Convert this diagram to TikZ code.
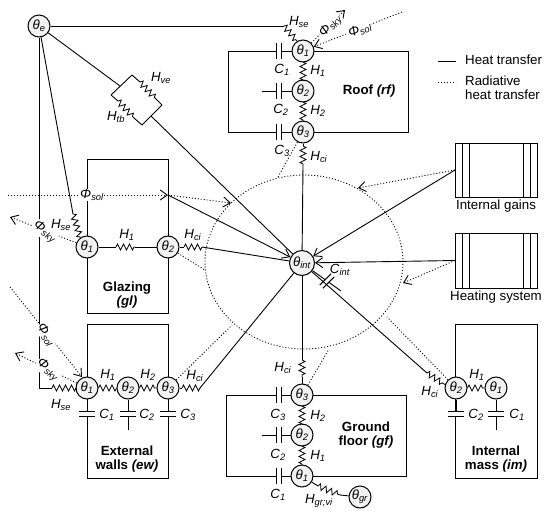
\documentclass[tikz,border=0pt]{standalone}
\usepackage{fontspec}
\setmainfont{Liberation Sans}
\usetikzlibrary{arrows.meta, positioning, calc, shapes.geometric, decorations.pathmorphing}
\newcommand{\sym}[2]{\textit{#1}\textsubscript{\textit{#2}}}
\begin{document}
\begin{tikzpicture}[x=1pt, y=-1pt, >={Straight Barb[length=7pt,width=10pt]},
            font=\fontsize{13.3}{14.5}\selectfont,
            wire/.style={line width=0.9pt},
            rad/.style={line width=0.9pt, dash pattern=on 1pt off 2pt},
            res/.style={line width=0.8pt, decorate, decoration={zigzag, segment length=6pt, amplitude=3pt}},
            box/.style={draw, line width=1pt, rectangle, inner sep=0pt, outer sep=0pt},
            temp/.style={draw, circle, line width=1pt, fill=gray!10, minimum size=22pt, inner sep=0pt},
            plate/.style={line width=1.1pt},
            capv/.style={fill=white, minimum width=16pt, minimum height=4.5pt, inner sep=0pt, outer sep=0pt,
                append after command={(\tikzlastnode.north west) edge[plate] (\tikzlastnode.north east)
                                      (\tikzlastnode.south west) edge[plate] (\tikzlastnode.south east)}},
            caph/.style={capv, rotate=90},
            lab/.style={inner sep=0pt},
            hide/.style={fill=white, inner sep=0.5pt}]
            \useasboundingbox (0,0) rectangle (550,515);

            \node[draw, ellipse, rad, minimum width=198pt, minimum height=174pt, inner sep=0pt] (zone) at (304,262) {};

            \node[box, minimum width=180pt, minimum height=81pt] (rf) at (318,91.5) {};
            \node[box, minimum width=81pt, minimum height=154pt] (gl) at (127.5,236) {};
            \node[box, minimum width=81pt, minimum height=154pt] (ew) at (127.5,401) {};
            \node[box, minimum width=180pt, minimum height=81pt] (gf) at (316,435.5) {};
            \node[box, minimum width=82pt, minimum height=154pt] (im) at (496,401) {};
            \node[box, minimum width=82pt, minimum height=54pt] (ig) at (496,170) {};
            \node[box, minimum width=82pt, minimum height=55pt] (hs) at (496,260.5) {};

            \draw[box] ($(ig.north west)+(7,0)$) -- ($(ig.south west)+(7,0)$);
            \draw[box] ($(ig.north west)+(14,0)$) -- ($(ig.south west)+(14,0)$);
            \draw[box] ($(ig.north east)+(-7,0)$) -- ($(ig.south east)+(-7,0)$);
            \draw[box] ($(ig.north east)+(-14,0)$) -- ($(ig.south east)+(-14,0)$);
            \draw[box] ($(hs.north west)+(7,0)$) -- ($(hs.south west)+(7,0)$);
            \draw[box] ($(hs.north west)+(14,0)$) -- ($(hs.south west)+(14,0)$);
            \draw[box] ($(hs.north east)+(-7,0)$) -- ($(hs.south east)+(-7,0)$);
            \draw[box] ($(hs.north east)+(-14,0)$) -- ($(hs.south east)+(-14,0)$);

            \node[temp] (te) at (39,26) {\sym{θ}{e}};
            \node[temp, minimum size=25pt] (tint) at (302,263) {\sym{θ}{int}};
            \node[temp] (rf1) at (303,51) {\sym{θ}{1}};
            \node[temp] (rf2) at (303,91) {\sym{θ}{2}};
            \node[temp] (rf3) at (303,132) {\sym{θ}{3}};
            \node[temp] (gl1) at (87,247) {\sym{θ}{1}};
            \node[temp] (gl2) at (168,247) {\sym{θ}{2}};
            \node[temp] (ew1) at (87,388) {\sym{θ}{1}};
            \node[temp] (ew2) at (128,388) {\sym{θ}{2}};
            \node[temp] (ew3) at (168,388) {\sym{θ}{3}};
            \node[temp] (gf3) at (302,395) {\sym{θ}{3}};
            \node[temp] (gf2) at (302,435) {\sym{θ}{2}};
            \node[temp] (gf1) at (302,476) {\sym{θ}{1}};
            \node[temp] (tgr) at (360,497) {\sym{θ}{gr}};
            \node[temp] (im2) at (456,388) {\sym{θ}{2}};
            \node[temp] (im1) at (496,388) {\sym{θ}{1}};

            \node[caph] (crf1) at (279,51) {};
            \node[caph] (crf2) at (279,91) {};
            \node[caph] (crf3) at (279,132) {};
            \node[caph] (cgf3) at (279,395) {};
            \node[caph] (cgf2) at (279,435) {};
            \node[caph] (cgf1) at (279,476) {};
            \node[capv] (cew1) at (87,414) {};
            \node[capv] (cew2) at (128,414) {};
            \node[capv] (cew3) at (168,414) {};
            \node[capv] (cim2) at (456,414) {};
            \node[capv] (cim1) at (496,414) {};
            \node[capv, rotate=45] (cint) at (327,281) {};

            \coordinate (erf) at (284,26);
            \coordinate (rfse) at (297,41);
            \coordinate (rfa) at (303,62);
            \coordinate (rfb) at (303,80);
            \coordinate (rfc) at (303,102);
            \coordinate (rfd) at (303,121);
            \coordinate (rfe) at (303,146);
            \coordinate (rff) at (303,165);
            \draw[wire] (te) -- (erf);
            \draw[res] (erf) -- (rfse);
            \draw[wire] (rfse) -- (rf1);
            \draw[res] (rfa) -- (rfb);
            \draw[wire] (rf1) -- (rfa) (rfb) -- (rf2) -- (rfc);
            \draw[res] (rfc) -- (rfd);
            \draw[wire] (rfd) -- (rf3) -- (rfe);
            \draw[res] (rfe) -- (rff);
            \draw[wire] (rff) -- (tint);
            \coordinate (srf2) at (262,91);
            \draw[wire] (rf2) -- (crf2) -- (srf2);
            \draw[wire] (rf1) -- (crf1);
            \draw[wire] (rf3) -- (crf3);

            \coordinate (tva) at (120,86);
            \coordinate (tvb) at (151,116);
            \coordinate (vea) at (132,75);
            \coordinate (veb) at (140,82);
            \coordinate (vec) at (155,98);
            \coordinate (ved) at (162,105);
            \coordinate (tba) at (111,95);
            \coordinate (tbb) at (118,101);
            \coordinate (tbc) at (134,118);
            \coordinate (tbd) at (142,125);
            \draw[wire] (te) -- (tva);
            \draw[wire] (vea) -- (tba);
            \draw[wire] (ved) -- (tbd);
            \draw[wire] (vea) -- (veb);
            \draw[res] (veb) -- (vec);
            \draw[wire] (vec) -- (ved);
            \draw[wire] (tba) -- (tbb);
            \draw[res] (tbb) -- (tbc);
            \draw[wire] (tbc) -- (tbd);
            \draw[wire] (tvb) -- (tint);

            \coordinate (gla) at (73,214);
            \coordinate (glb) at (80,237);
            \coordinate (glc) at (116,247);
            \coordinate (gld) at (135,247);
            \coordinate (gle) at (184,247);
            \coordinate (glf) at (202,247);
            \draw[wire] (te) -- (gla);
            \draw[res] (gla) -- (glb);
            \draw[wire] (glb) -- (gl1);
            \draw[wire] (gl1) -- (glc);
            \draw[res] (glc) -- (gld);
            \draw[wire] (gld) -- (gl2);
            \draw[wire] (gl2) -- (gle);
            \draw[res] (gle) -- (glf);
            \draw[wire] (glf) -- (tint);

            \coordinate (ewa) at (39,388);
            \coordinate (ewb) at (52,388);
            \coordinate (ewc) at (76,388);
            \coordinate (ewd) at (182,388);
            \coordinate (ewe) at (200,388);
            \draw[wire] (te) -- (ewa) -- (ewb);
            \draw[res] (ewb) -- (ewc);
            \draw[wire] (ewc) -- (ew1);
            \draw[res] (ew1) -- (ew2);
            \draw[res] (ew2) -- (ew3);
            \draw[wire] (ew3) -- (ewd);
            \draw[res] (ewd) -- (ewe);
            \draw[wire] (ewe) -- (tint);
            \coordinate (sew2) at (128,430);
            \draw[wire] (ew2) -- (cew2) -- (sew2);
            \draw[wire] (ew1) -- (cew1);
            \draw[wire] (ew3) -- (cew3);

            \coordinate (gfa) at (302,360);
            \coordinate (gfb) at (302,377);
            \coordinate (gfc) at (302,406);
            \coordinate (gfd) at (302,424);
            \coordinate (gfe) at (302,446);
            \coordinate (gff) at (302,465);
            \coordinate (gfg) at (318,486);
            \coordinate (gfh) at (340,495);
            \draw[wire] (tint) -- (gfa);
            \draw[res] (gfa) -- (gfb);
            \draw[wire] (gfb) -- (gf3) -- (gfc);
            \draw[res] (gfc) -- (gfd);
            \draw[wire] (gfd) -- (gf2) -- (gfe);
            \draw[res] (gfe) -- (gff);
            \draw[wire] (gff) -- (gf1) -- (gfg);
            \draw[res] (gfg) -- (gfh);
            \draw[wire] (gfh) -- (tgr);
            \coordinate (sgf2) at (262,435);
            \draw[wire] (gf2) -- (cgf2) -- (sgf2);
            \draw[wire] (gf3) -- (cgf3);
            \draw[wire] (gf1) -- (cgf1);

            \coordinate (ima) at (427,373);
            \coordinate (imb) at (444,384);
            \draw[wire] (tint) -- (ima);
            \draw[res] (ima) -- (imb);
            \draw[wire] (imb) -- (im2);
            \draw[res] (im2) -- (im1);
            \coordinate (sim1) at (496,430);
            \draw[wire] (im1) -- (cim1) -- (sim1);
            \draw[wire] (im2) -- (cim2);

            \coordinate (sint) at (341,291);
            \draw[wire] (tint) -- (cint) -- (sint);

            \draw[wire, ->] (ig.west) -- (tint);
            \draw[wire, ->] (hs.west) -- (tint);
            \coordinate (igz) at (358,188);
            \coordinate (hsz) at (403,283);
            \draw[rad, ->] (ig.west) -- (igz);
            \draw[rad, ->] (hs.west) -- (hsz);

            \coordinate (sola) at (8,195);
            \coordinate (solb) at (168,195);
            \coordinate (solc) at (231,203);
            \draw[rad, ->] (sola) -- (solb);
            \draw[rad, ->] (solb) -- (solc);
            \draw[wire, ->] (solb) -- (tint);
            \coordinate (skya) at (10,217);
            \draw[rad, ->] (gl1) -- (skya);
            \coordinate (glz) at (205,270);
            \draw[rad] (gl2) -- (glz);

            \coordinate (sole) at (10,287);
            \coordinate (solf) at (82,377);
            \draw[rad, ->] (sole) -- (solf);
            \coordinate (skyb) at (15,353);
            \draw[rad, ->] (ew1) -- (skyb);
            \coordinate (ewz) at (232,325);
            \draw[rad] (ew3) -- (ewz);

            \coordinate (sold) at (402,12);
            \coordinate (skyc) at (345,10);
            \coordinate (rfz) at (278,177);
            \draw[rad, ->] (sold) -- (rf1);
            \draw[rad, ->] (rf1) -- (skyc);
            \draw[rad] (rf3) -- (rfz);
            \coordinate (gfz) at (329,349);
            \draw[rad] (gf3) -- (gfz);
            \coordinate (imz) at (387,317);
            \draw[rad] (im2) -- (imz);

            \coordinate (lega) at (438,61);
            \coordinate (legb) at (456,61);
            \coordinate (legc) at (438,82);
            \coordinate (legd) at (456,82);
            \draw[wire] (lega) -- (legb);
            \draw[rad] (legc) -- (legd);
            \node[lab, right=9pt of legb, yshift=1.5pt] (legh) {Heat transfer};
            \node[lab, anchor=north west, align=left] (legr) at (465,75.5) {Radiative\\heat transfer};

            \node[lab] (tig) at (496,206) {Internal gains};
            \node[lab] (ths) at (496,297) {Heating system};
            \node[lab, align=center] (trf) at (369,91) {\textbf{Roof \textit{(rf)}}};
            \node[lab, align=center] (tgl) at (127,295) {\textbf{Glazing}\\\textbf{\textit{(gl)}}};
            \node[lab, align=center] (tew) at (127,459) {\textbf{External}\\\textbf{walls \textit{(ew)}}};
            \node[lab, align=center] (tgf) at (366,435) {\textbf{Ground}\\\textbf{floor \textit{(gf)}}};
            \node[lab, align=center] (tim) at (496,459) {\textbf{Internal}\\\textbf{mass \textit{(im)}}};

            \node[lab] (lve) at (161,78) {\sym{H}{ve}};
            \node[lab] (ltb) at (116,117) {\sym{H}{tb}};
            \node[lab] (lrse) at (299,22) {\sym{H}{se}};
            \node[lab] (lrh1) at (318,71) {\sym{H}{1}};
            \node[lab] (lrh2) at (318,111) {\sym{H}{2}};
            \node[lab] (lrci) at (319,157) {\sym{H}{ci}};
            \node[lab] (lrc1) at (282,70) {\sym{C}{1}};
            \node[lab] (lrc2) at (281,110) {\sym{C}{2}};
            \node[lab] (lrc3) at (282,151) {\sym{C}{3}};
            \node[hide, rotate=48] (lrsky) at (331,26) {\sym{Φ}{sky}};
            \node[hide, rotate=22] (lrsol) at (360,30) {\sym{Φ}{sol}};

            \node[hide] (lgsol) at (92,195) {\sym{Φ}{sol}};
            \node[hide, rotate=-35] (lgsky) at (45,232) {\sym{Φ}{sky}};
            \node[lab] (lgse) at (61,225) {\sym{H}{se}};
            \node[lab] (lgh1) at (127,235) {\sym{H}{1}};
            \node[lab] (lgci) at (193,235) {\sym{H}{ci}};

            \node[hide, rotate=-58] (lesol) at (46,335) {\sym{Φ}{sol}};
            \node[hide, rotate=-40] (lesky) at (48,370) {\sym{Φ}{sky}};
            \node[lab] (lese) at (61,405) {\sym{H}{se}};
            \node[lab] (leh1) at (108,375) {\sym{H}{1}};
            \node[lab] (leh2) at (148,375) {\sym{H}{2}};
            \node[lab] (leci) at (195,376) {\sym{H}{ci}};
            \node[lab] (lec1) at (107,415) {\sym{C}{1}};
            \node[lab] (lec2) at (147,415) {\sym{C}{2}};
            \node[lab] (lec3) at (188,415) {\sym{C}{3}};

            \node[lab] (lfci) at (283,368) {\sym{H}{ci}};
            \node[lab] (lfh2) at (318,416) {\sym{H}{2}};
            \node[lab] (lfh1) at (318,456) {\sym{H}{1}};
            \node[lab] (lfc3) at (278,415) {\sym{C}{3}};
            \node[lab] (lfc2) at (278,455) {\sym{C}{2}};
            \node[lab] (lfc1) at (278,495) {\sym{C}{1}};
            \node[lab] (lfgr) at (319,501) {\sym{H}{gr;vi}};

            \node[lab] (lmh1) at (477,375) {\sym{H}{1}};
            \node[lab] (lmci) at (430,392) {\sym{H}{ci}};
            \node[lab] (lmc2) at (476,415) {\sym{C}{2}};
            \node[lab] (lmc1) at (517,415) {\sym{C}{1}};
            \node[lab] (lint) at (340,270) {\sym{C}{int}};
        \end{tikzpicture}
\end{document}
